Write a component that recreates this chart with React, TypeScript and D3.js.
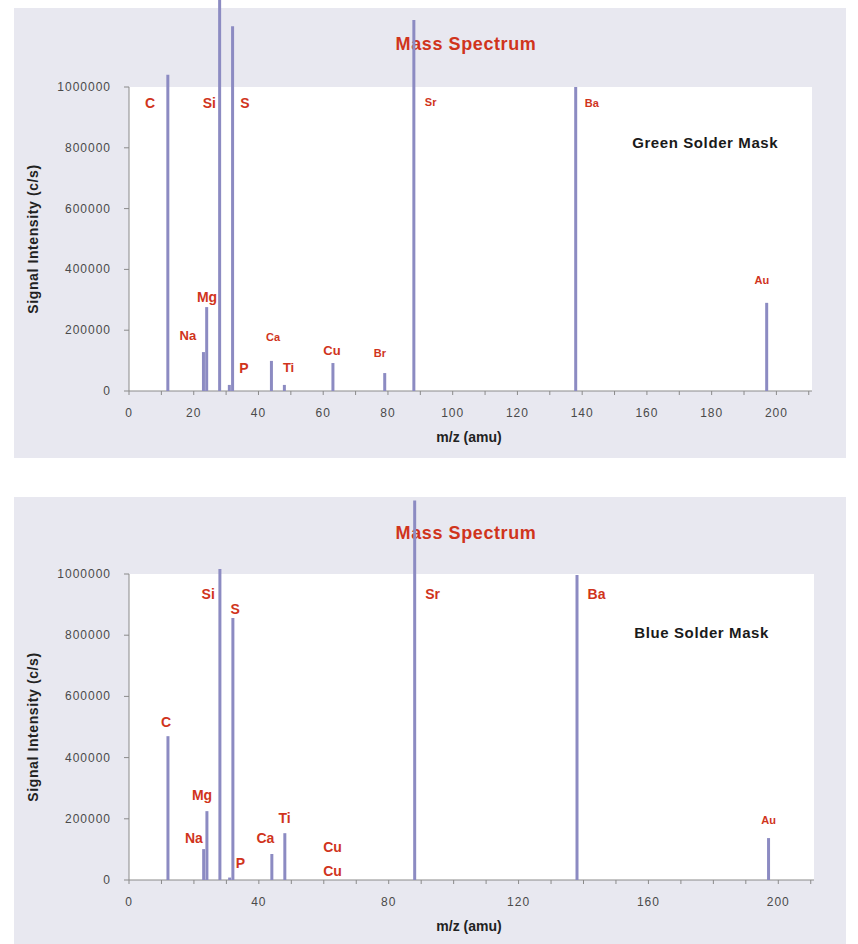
import React from "react";
import * as d3 from "d3";

// ---------- data ----------
const greenMz = [12, 23, 24, 28, 31, 32, 44, 48, 63, 79, 88, 138, 197];
const greenIntensity = [1040000, 128000, 276000, 1320000, 20000, 1200000, 99000, 20000, 92000, 59000, 1220000, 1000000, 290000];

const blueMz = [12, 23, 24, 28, 31, 32, 44, 48, 88, 138, 197];
const blueIntensity = [470000, 101000, 225000, 1016000, 8000, 856000, 85000, 153000, 1240000, 997000, 137000];

// element annotations: [text, m/z anchor, intensity anchor, size class]
const greenLabels: [string, number, number, string][] = [
  ["C", 6.5, 947000, "big"],
  ["Si", 24.8, 947000, "big"],
  ["S", 35.8, 947000, "big"],
  ["Sr", 93.2, 952000, "small"],
  ["Ba", 143, 947000, "small"],
  ["Mg", 24.1, 309000, "big"],
  ["Na", 18.2, 181000, "mid"],
  ["P", 35.5, 76000, "big"],
  ["Ca", 44.5, 178000, "small"],
  ["Ti", 49.3, 76000, "mid"],
  ["Cu", 62.7, 132000, "mid"],
  ["Br", 77.5, 125000, "small"],
  ["Au", 195.5, 365000, "small"],
];

const blueLabels: [string, number, number, string][] = [
  ["Si", 24.4, 935000, "big"],
  ["S", 32.7, 886000, "big"],
  ["Sr", 93.5, 935000, "big"],
  ["Ba", 144, 935000, "big"],
  ["C", 11.4, 516000, "big"],
  ["Mg", 22.5, 278000, "big"],
  ["Na", 20, 137000, "big"],
  ["P", 34.3, 56000, "big"],
  ["Ca", 42, 137000, "big"],
  ["Ti", 47.9, 203000, "big"],
  ["Cu", 62.7, 108000, "big"],
  ["Cu", 62.7, 29000, "big"],
  ["Au", 197, 196000, "small"],
];

const yTicks = [0, 200000, 400000, 600000, 800000, 1000000];
const xMinorTicks = d3.range(0, 211, 10);
const greenXLabels = [0, 20, 40, 60, 80, 100, 120, 140, 160, 180, 200];
const blueXLabels = [0, 40, 80, 120, 160, 200];

const chartTitle = "Mass Spectrum";
const yTitle = "Signal Intensity (c/s)";
const xTitle = "m/z (amu)";

const BAR = "#8c8bc2";
const RED = "#d0341c";
const FONT = "'Liberation Sans', Arial, sans-serif";

type PanelProps = {
  top: number;
  bgH: number;
  plotTop: number;
  plotBottom: number;
  plotRight: number;
  mz: number[];
  intensity: number[];
  labels: [string, number, number, string][];
  xLabels: number[];
  sample: string;
  sampleMz: number;
  sampleVal: number;
  titleY: number;
};

const sizeOf = (s: string) => (s === "big" ? 14 : s === "mid" ? 13 : 11);

function Panel(p: PanelProps) {
  const x = d3.scaleLinear().domain([0, 211]).range([129, p.plotRight]);
  const y = d3.scaleLinear().domain([0, 1000000]).range([p.plotBottom, p.plotTop]);
  const y0 = y(0);
  const yMid = (y0 + y(1000000)) / 2;
  return (
    <g>
      <rect x={14} y={p.top} width={832} height={p.bgH} fill="#e8e8f0" />
      <rect x={x(0)} y={y(1000000)} width={x(211) - x(0)} height={y0 - y(1000000)} fill="#ffffff" />
      {/* title */}
      <text x={466} y={p.titleY} textAnchor="middle" dominantBaseline="central" fill={RED}
        fontFamily={FONT} fontWeight="bold" fontSize={18} letterSpacing={0.6}>{chartTitle}</text>
      {/* axes */}
      <line x1={x(0)} x2={x(0)} y1={y0} y2={y(1000000)} stroke="#8a8a8a" strokeWidth={1} />
      <line x1={x(0)} x2={x(211)} y1={y0} y2={y0} stroke="#8a8a8a" strokeWidth={1} />
      {yTicks.map((t) => (
        <g key={"yt" + t}>
          <line x1={x(0) - 5} x2={x(0)} y1={y(t)} y2={y(t)} stroke="#8a8a8a" />
          <text x={x(0) - 18} y={y(t)} textAnchor="end" dominantBaseline="central" fill="#4a4a4a"
            fontFamily={FONT} fontSize={12} letterSpacing={1}>{t}</text>
        </g>
      ))}
      {xMinorTicks.map((t) => (
        <line key={"xt" + t} x1={x(t)} x2={x(t)} y1={y0} y2={y0 + 4} stroke="#8a8a8a" />
      ))}
      {p.xLabels.map((t) => (
        <text key={"xl" + t} x={x(t)} y={y0 + 22} textAnchor="middle" dominantBaseline="central" fill="#4a4a4a"
          fontFamily={FONT} fontSize={12} letterSpacing={1}>{t}</text>
      ))}
      <text x={469} y={y0 + 46} textAnchor="middle" dominantBaseline="central" fill="#222"
        fontFamily={FONT} fontWeight="bold" fontSize={14}>{xTitle}</text>
      <text transform={`translate(33,${yMid}) rotate(-90)`} textAnchor="middle"
        dominantBaseline="central" fill="#222" fontFamily={FONT} fontWeight="bold" fontSize={14}
        letterSpacing={0.6}>{yTitle}</text>
      {/* peaks */}
      {p.mz.map((m, i) => (
        <line key={"b" + i} x1={x(m)} x2={x(m)} y1={y0} y2={y(p.intensity[i])} stroke={BAR} strokeWidth={3} />
      ))}
      {/* labels */}
      {p.labels.map(([t, m, v, s], i) => (
        <text key={"l" + i} x={x(m)} y={y(v)} textAnchor="middle" dominantBaseline="central" fill={RED}
          fontFamily={FONT} fontWeight="bold" fontSize={sizeOf(s)}>{t}</text>
      ))}
      <text x={x(p.sampleMz)} y={y(p.sampleVal)} textAnchor="middle" dominantBaseline="central" fill="#1a1a1a"
        fontFamily={FONT} fontWeight="bold" fontSize={15} letterSpacing={0.6}>{p.sample}</text>
    </g>
  );
}

export default function App() {
  return (
    <svg width={858} height={944} style={{ position: "absolute", left: 0, top: 0, background: "#fff" }}>
      <Panel top={8} bgH={450} plotTop={87} plotBottom={391} plotRight={812}
        mz={greenMz} intensity={greenIntensity} labels={greenLabels} xLabels={greenXLabels}
        sample="Green Solder Mask" sampleMz={178} sampleVal={819000} titleY={44} />
      <Panel top={497} bgH={447} plotTop={574} plotBottom={880} plotRight={814}
        mz={blueMz} intensity={blueIntensity} labels={blueLabels} xLabels={blueXLabels}
        sample="Blue Solder Mask" sampleMz={176.4} sampleVal={810000} titleY={533} />
    </svg>
  );
}
